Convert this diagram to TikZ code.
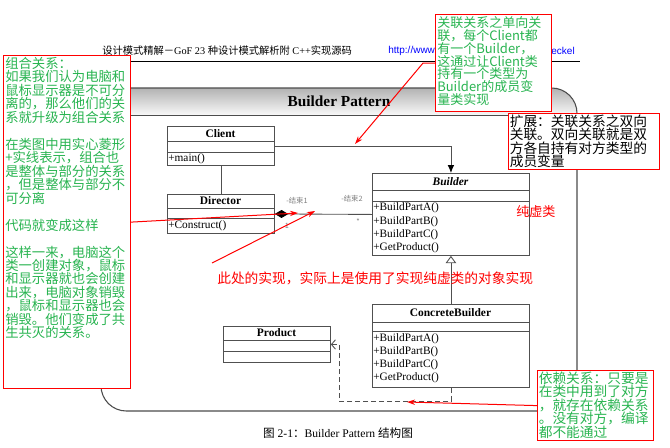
\documentclass[tikz,border=0pt]{standalone}
\usepackage{fontspec}
\setmainfont{Liberation Serif}
\newfontfamily\cjk{Noto Sans CJK SC}
\newfontfamily\urlfont{Liberation Sans}
\usetikzlibrary{arrows.meta}
\definecolor{notegreen}{RGB}{40,180,80}
\definecolor{linegray}{RGB}{80,80,80}
\def\ux{0.75pt}

\tikzset{
  umlbox/.style={draw=linegray, line width=0.65pt, fill=white, inner sep=0pt, anchor=north west},
  umltitle/.style={font=\fontsize{8.6}{9}\selectfont\bfseries, inner sep=0pt},
  umlop/.style={font=\fontsize{8.5}{9}\selectfont, inner sep=0pt, anchor=west},
  assoc/.style={draw=linegray, line width=0.65pt},
  dep/.style={draw=linegray, line width=0.65pt, dash pattern=on 4pt off 2pt},
  notebox/.style={draw=red, line width=0.9pt, fill=white, inner sep=0pt, anchor=north west},
  notetext/.style={text=notegreen, inner sep=0pt, anchor=north west, align=left},
  redarrow/.style={draw=red, line width=0.75pt, -{Stealth[length=6pt,width=4pt]}},
  endlabel/.style={font=\cjk\fontsize{5.5}{6}\selectfont, text=gray, inner sep=0pt},
}

\begin{document}
\begin{tikzpicture}[x=0.75pt,y=-0.75pt]
\useasboundingbox (0,0) rectangle (670,447);
\fill[white] (0,0) rectangle (670,447);

\node[anchor=west, inner sep=0pt, font=\fontsize{7.7}{8}\selectfont] (head) at (102,51)
  {{\cjk 设计模式精解－}GoF 23 {\cjk 种设计模式解析附} C++{\cjk 实现源码}};
\node[anchor=west, inner sep=0pt, font=\urlfont\fontsize{7.5}{8}\selectfont, text=blue] (url) at (388,51) {http://www};
\node[anchor=east, inner sep=0pt, font=\urlfont\fontsize{7.5}{8}\selectfont, text=blue] (urlend) at (575,51) {eckel};
\draw[line width=0.6pt] (100,61) -- (580,61);

\begin{scope}
\clip[rounded corners=19pt] (101,88) rectangle (577,411);
\shade[top color=gray!60, bottom color=gray!5] (101,88) rectangle (577,115);
\end{scope}
\draw[gray!60!black, line width=0.7pt] (101,115) -- (577,115);
\draw[gray!60!black, line width=0.8pt, rounded corners=19pt] (101,88) rectangle (577,411);
\node[font=\fontsize{11.5}{12}\selectfont\bfseries, inner sep=0pt] (title) at (339,101) {Builder Pattern};

\node[umlbox, minimum width=107*\ux, minimum height=39*\ux] (client) at (167,126) {};
\draw[assoc] (167,141) -- (274,141) (167,152) -- (274,152);
\node[umltitle] (clientname) at (220.5,133.5) {Client};
\node[umlop] (clientop) at (168,158.5) {+main()};

\node[umlbox, minimum width=107*\ux, minimum height=39*\ux] (director) at (167,194) {};
\draw[assoc] (167,208) -- (274,208) (167,218) -- (274,218);
\node[umltitle] (directorname) at (220.5,201) {Director};
\node[umlop] (directorop) at (168,225.5) {+Construct()};

\node[umlbox, minimum width=157*\ux, minimum height=82*\ux] (builder) at (372,173) {};
\draw[assoc] (372,190) -- (529,190) (372,201) -- (529,201);
\node[umltitle, font=\fontsize{8.6}{9}\selectfont\bfseries\itshape] (buildername) at (450.5,181.5) {Builder};
\foreach \m [count=\i from 0] in {BuildPartA(),BuildPartB(),BuildPartC(),GetProduct()}
  \node[umlop] (bop\i) at (373,208+13.4*\i) {+\m};

\node[umlbox, minimum width=157*\ux, minimum height=83*\ux] (cbuilder) at (372,304) {};
\draw[assoc] (372,322) -- (529,322) (372,331) -- (529,331);
\node[umltitle] (cbuildername) at (450.5,313) {ConcreteBuilder};
\foreach \m [count=\i from 0] in {BuildPartA(),BuildPartB(),BuildPartC(),GetProduct()}
  \node[umlop] (cop\i) at (373,339+13*\i) {+\m};

\node[umlbox, minimum width=107*\ux, minimum height=36*\ux] (product) at (223,326) {};
\draw[assoc] (223,340) -- (330,340) (223,351) -- (330,351);
\node[umltitle] (productname) at (276.5,333) {Product};

\draw[assoc, -{Latex[length=6pt,width=5pt,color=black]}] (client.east) -| (builder.north);
\draw[assoc] (client.south) -- (director.north);
\draw[assoc, {Diamond[length=10pt,width=6pt,color=black,fill=black]}-] (director.east) -- (builder.west);
\draw[assoc, -{Triangle[open,length=5.5pt,width=8pt,fill=white]}] (cbuilder.north) -- (builder.south);
\coordinate (depcorner) at (339,401);
\draw[dep, -{Straight Barb[length=3pt,width=7pt]}] (cbuilder.south) |- (depcorner) |- (product.east);

\node[endlabel] (end1) at (297,201) {-结束1};
\node[endlabel] (end2) at (352,199) {-结束2};
\node[endlabel] (mult1) at (287,226) {1};
\node[endlabel] (mult2) at (358,222) {*};

\node[font=\cjk\fontsize{10.3}{11}\selectfont, text=red, anchor=west, inner sep=0pt] (impl) at (217,278)
  {此处的实现，实际上是使用了实现纯虚类的对象实现};
\node[font=\cjk\fontsize{9.8}{10}\selectfont, text=red, anchor=west, inner sep=0pt] (pure) at (516,212) {纯虚类};

\node[font=\fontsize{8.7}{9}\selectfont, inner sep=0pt] (caption) at (338,433)
  {{\cjk 图} 2-1{\cjk ：}Builder Pattern {\cjk 结构图}};

\node[notebox, minimum width=127*\ux, minimum height=333*\ux] (leftnote) at (3,55) {};
\node[notetext, font=\cjk\fontsize{10}{10.1}\selectfont, text width=125*\ux] (lefttext) at (5,57)
  {组合关系：\\如果我们认为电脑和\\鼠标显示器是不可分\\离的，那么他们的关\\系就升级为组合关系\\[10.1pt]
   在类图中用实心菱形\\+实线表示，组合也\\是整体与部分的关系\\，但是整体与部分不\\可分离\\[10.1pt]
   代码就变成这样\\[10.1pt]
   这样一来，电脑这个\\类一创建对象，鼠标\\和显示器就也会创建\\出来，电脑对象销毁\\，鼠标和显示器也会\\销毁。他们变成了共\\生共灭的关系。};

\node[notebox, minimum width=116*\ux, minimum height=97*\ux] (topnote) at (435,14) {};
\node[notetext, font=\cjk\fontsize{9.75}{9.6}\selectfont, text width=114*\ux] (toptext) at (437,16.5)
  {关联关系之单向关\\联，每个Client都\\有一个Builder，\\这通过让Client类\\持有一个类型为\\Builder的成员变\\量类实现};

\node[notebox, minimum width=151*\ux, minimum height=56*\ux] (extnote) at (508,113) {};
\node[notetext, text=black, font=\cjk\fontsize{10.3}{10}\selectfont, text width=149*\ux] (exttext) at (509.5,114.5)
  {扩展：关联关系之双向\\关联。双向关联就是双\\方各自持有对方类型的\\成员变量};

\node[notebox, minimum width=116*\ux, minimum height=70*\ux] (depnote) at (537,370) {};
\node[notetext, font=\cjk\fontsize{10.3}{10.1}\selectfont, text width=114*\ux] (deptext) at (538.5,371.5)
  {依赖关系：只要是\\在类中用到了对方\\，就存在依赖关系\\。没有对方，编译\\都不能通过};

\coordinate (comphead) at (298,213);
\draw[redarrow] (leftnote.east) -- (comphead);
\coordinate (impltail) at (212,263);
\coordinate (implhead) at (315,211);
\draw[redarrow] (impltail) -- (implhead);
\coordinate (assochead) at (355,144);
\draw[redarrow] (topnote.west) -- ++(-12,0) -- (assochead);
\coordinate (dephead) at (407,402);
\draw[redarrow] (depnote.west) -- (dephead);
\end{tikzpicture}
\end{document}
